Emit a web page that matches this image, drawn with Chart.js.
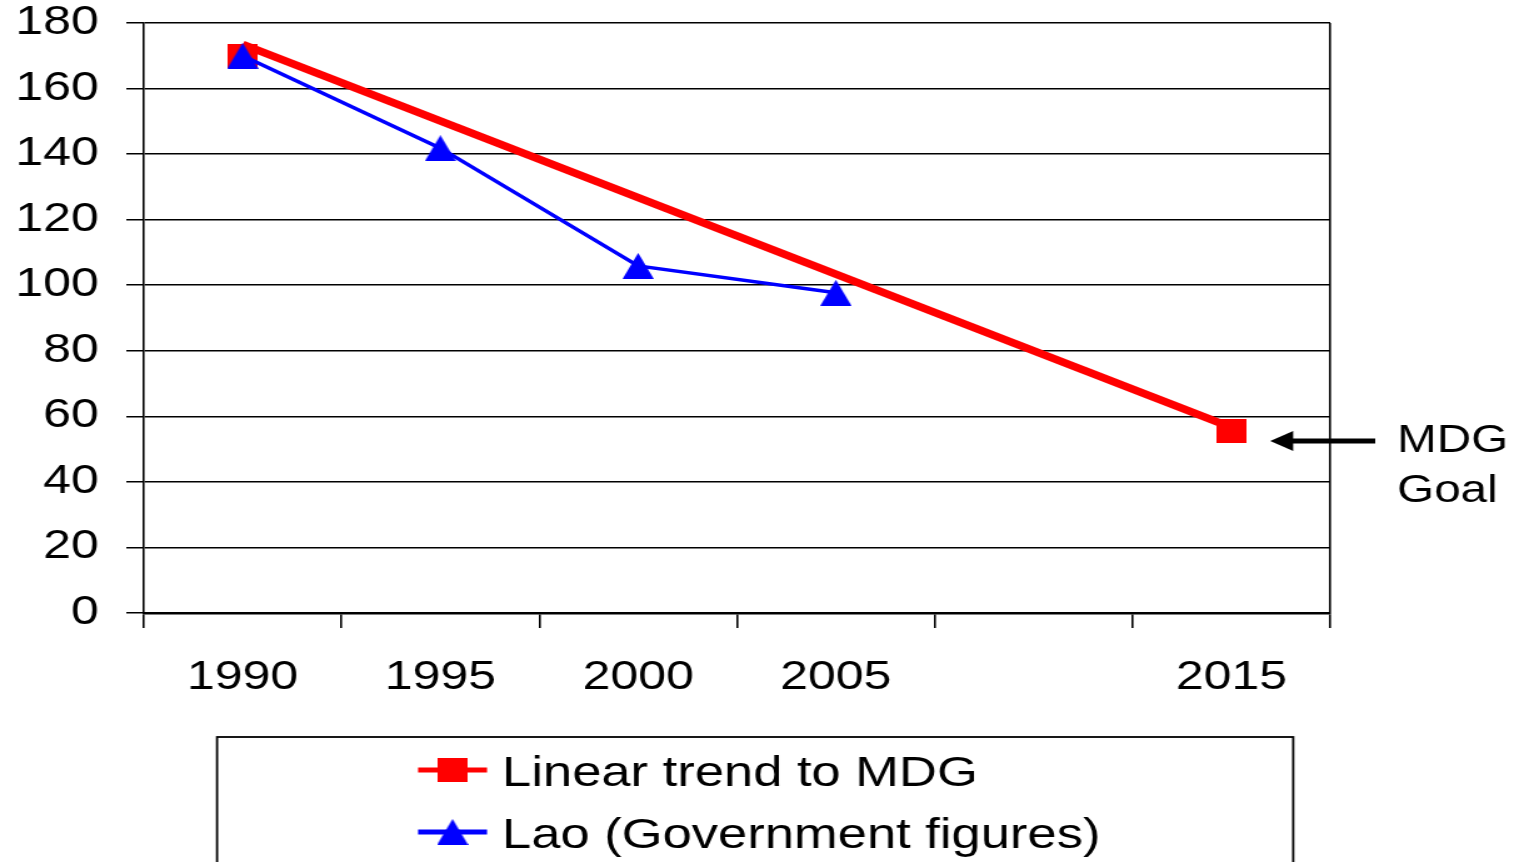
<!DOCTYPE html>
<html>
<head>
<meta charset="utf-8">
<title>Lao - linear trend to MDG</title>
<script src="https://cdn.jsdelivr.net/npm/chart.js@4.4.1/dist/chart.umd.min.js"></script>
<style>
    html, body { margin: 0; padding: 0; background: #fff; overflow: hidden; }
    /* the source picture is stretched sideways, so the chart is too */
    #wrap { position: relative; width: 1215px; height: 862px; transform: scaleX(1.2502); transform-origin: 0 0; }
</style>
</head>
<body>
<div id="wrap"><canvas id="mdg-chart"></canvas></div>
<script>
const categories = ["1990", "1995", "2000", "2005", "", "2015"];
const trendMarkers = [170, null, null, null, null, 55.5];
const trendLine = [173.5, null, null, null, null, 56.6];
const laoValues = [170, 141.8, 105.9, 97.7, null, null];
const yTicks = [0, 20, 40, 60, 80, 100, 120, 140, 160, 180];
const goalLabel = ["MDG", "Goal"];

(function () {
    "use strict";

    const RED = "#ff0000";
    const BLUE = "#0000ff";
    const FONT = "'Liberation Sans', Arial, sans-serif";

    function makeMarker(shape, color, w, h) {
        const c = document.createElement("canvas");
        c.width = w;
        c.height = h;
        const g = c.getContext("2d");
        g.fillStyle = color;
        if (shape === "square") {
            g.fillRect(0, 0, w, h);
        } else {
            g.beginPath();
            g.moveTo(w / 2, 0);
            g.lineTo(w, h);
            g.lineTo(0, h);
            g.closePath();
            g.fill();
        }
        return c;
    }

    const squareMarker = makeMarker("square", RED, 24, 24);
    const triangleMarker = makeMarker("triangle", BLUE, 25, 26);

    // Legend box drawn by hand, Excel style (line + marker)
    const boxLegend = {
        id: "boxLegend",
        afterDraw(chart) {
            const ctx = chart.ctx;
            ctx.save();
            ctx.strokeStyle = "#000";
            ctx.lineWidth = 1.8;
            ctx.strokeRect(173.6, 737, 860.8, 200);

            const rows = chart.data.datasets.filter((d) => d.inLegend);
            rows.sort((a, b) => a.legendRow - b.legendRow);
            rows.forEach((ds, i) => {
                const y = 770 + i * 62;
                ctx.strokeStyle = ds.borderColor;
                ctx.lineWidth = 5;
                ctx.beginPath();
                ctx.moveTo(334.4, y);
                ctx.lineTo(389.6, y);
                ctx.stroke();
                const m = ds.pointStyle;
                ctx.drawImage(m, 362 - m.width / 2, y - m.height / 2);
                ctx.fillStyle = "#000";
                ctx.font = "42px " + FONT;
                ctx.textBaseline = "alphabetic";
                ctx.fillText(ds.label, 401.6, y + 16);
            });
            ctx.restore();
        },
    };

    // "MDG Goal" note with arrow pointing at the 2015 target
    const goalNote = {
        id: "goalNote",
        afterDraw(chart) {
            const ctx = chart.ctx;
            const y = chart.scales.y.getPixelForValue(trendMarkers[5]) + 10;
            ctx.save();
            ctx.strokeStyle = "#000";
            ctx.fillStyle = "#000";
            ctx.lineWidth = 5;
            ctx.beginPath();
            ctx.moveTo(1100, y);
            ctx.lineTo(1030, y);
            ctx.stroke();
            ctx.beginPath();
            ctx.moveTo(1016, y);
            ctx.lineTo(1034.4, y - 10);
            ctx.lineTo(1034.4, y + 10);
            ctx.closePath();
            ctx.fill();
            ctx.font = "38px " + FONT;
            ctx.textBaseline = "alphabetic";
            ctx.fillText(goalLabel[0], 1117.6, y + 11);
            ctx.fillText(goalLabel[1], 1117.6, y + 61);
            ctx.restore();
        },
    };

    const ctx = document.getElementById("mdg-chart").getContext("2d");
    new Chart(ctx, {
        type: "line",
        data: {
            labels: categories,
            datasets: [
                {
                    label: "Lao (Government figures)",
                    data: laoValues,
                    borderColor: BLUE,
                    backgroundColor: BLUE,
                    borderWidth: 3.5,
                    pointStyle: triangleMarker,
                    pointRadius: 12,
                    tension: 0,
                    order: 1,
                    inLegend: true,
                    legendRow: 1,
                },
                {
                    label: "Linear trend to MDG",
                    data: trendMarkers,
                    borderColor: RED,
                    backgroundColor: RED,
                    showLine: false,
                    pointStyle: squareMarker,
                    pointRadius: 12,
                    order: 2,
                    inLegend: true,
                    legendRow: 0,
                },
                {
                    label: "trend line",
                    data: trendLine,
                    borderColor: RED,
                    borderWidth: 7.5,
                    borderCapStyle: "butt",
                    pointRadius: 0,
                    spanGaps: true,
                    tension: 0,
                    order: 3,
                },
            ],
        },
        options: {
            responsive: true,
            maintainAspectRatio: false,
            animation: false,
            events: [],
            layout: {
                padding: { top: 23, left: 0, right: 151, bottom: 164 },
            },
            plugins: {
                legend: { display: false },
                tooltip: { enabled: false },
            },
            scales: {
                x: {
                    offset: true,
                    afterFit: (s) => {
                        s.height = 85;
                    },
                    ticks: {
                        font: { family: FONT, size: 40, lineHeight: 1 },
                        color: "#000",
                        padding: 30,
                        maxRotation: 0,
                        autoSkip: false,
                    },
                    grid: {
                        offset: true,
                        drawOnChartArea: true,
                        color: (c) => (c.type === "tick" ? "rgba(0,0,0,0)" : "#000"),
                        lineWidth: 1.6,
                        tickColor: "#000",
                        tickLength: 15,
                        tickWidth: 1.6,
                    },
                    border: { color: "#000", width: 2.5 },
                },
                y: {
                    min: 0,
                    max: 180,
                    afterBuildTicks: (s) => {
                        s.ticks = yTicks.map((v) => ({ value: v }));
                    },
                    afterFit: (s) => {
                        s.width = 115;
                        s.paddingTop = 0;
                        s.paddingBottom = 0;
                    },
                    ticks: {
                        font: { family: FONT, size: 40, lineHeight: 1 },
                        color: "#000",
                        padding: 22,
                    },
                    grid: {
                        color: "#000",
                        lineWidth: 1.5,
                        tickColor: "#000",
                        tickLength: 14,
                        tickWidth: 1.5,
                    },
                    border: { color: "#000", width: 1.6 },
                },
            },
        },
        plugins: [boxLegend, goalNote],
    });
})();
</script>
</body>
</html>
